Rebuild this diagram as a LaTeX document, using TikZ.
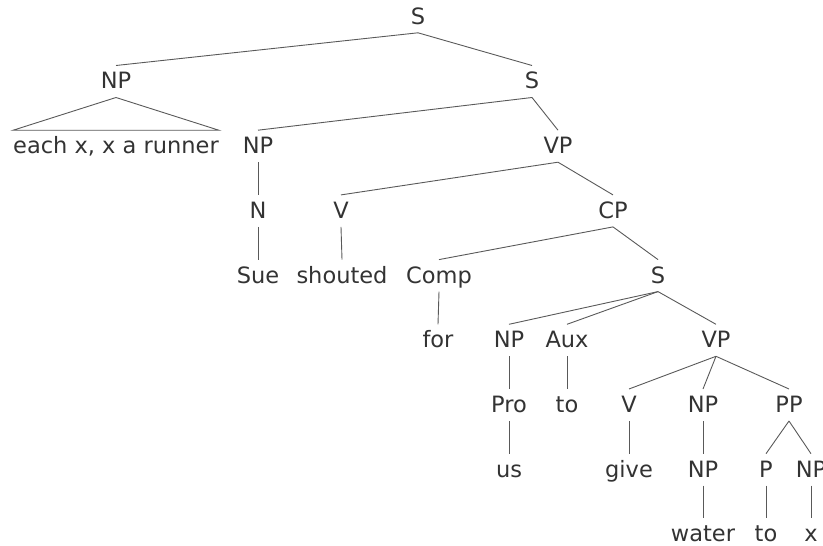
\documentclass[tikz,border=0pt]{standalone}
\usepackage{fontspec}
\setmainfont{DejaVu Sans}
\begin{document}
\begin{tikzpicture}[x=1pt,y=-1pt,
  lbl/.style={font=\fontsize{22.5}{27}\selectfont, text=black!80, inner sep=0pt,
    text height=16.4pt, text depth=1.6pt, outer xsep=0pt, outer ysep=7pt, anchor=base},
  edge/.style={draw=black!65, line width=0.9pt}]
\useasboundingbox (0,0) rectangle (823,546);
\def\la{24.2}\def\lb{88.9}\def\lc{153.6}\def\ld{218.3}\def\le{283}
\def\lf{347.7}\def\lg{412.4}\def\lh{477.1}\def\li{541.8}
% level 0
\node[lbl] (s0) at (418,\la) {S};
% level 1
\node[lbl] (np1) at (116,\lb) {NP};
\node[lbl] (s1) at (532,\lb) {S};
% level 2
\node[lbl] (each) at (116,\lc) {each x, x a runner};
\node[lbl] (np2) at (258,\lc) {NP};
\node[lbl] (vp1) at (558,\lc) {VP};
% level 3
\node[lbl] (n) at (258,\ld) {N};
\node[lbl] (v1) at (341,\ld) {V};
\node[lbl] (cp) at (613,\ld) {CP};
% level 4
\node[lbl] (sue) at (258,\le) {Sue};
\node[lbl] (shouted) at (342,\le) {shouted};
\node[lbl] (comp) at (439,\le) {Comp};
\node[lbl] (s2) at (658,\le) {S};
% level 5
\node[lbl] (for) at (438,\lf) {for};
\node[lbl] (np3) at (509,\lf) {NP};
\node[lbl] (aux) at (567,\lf) {Aux};
\node[lbl] (vp2) at (716,\lf) {VP};
% level 6
\node[lbl] (pro) at (509,\lg) {Pro};
\node[lbl] (to1) at (567,\lg) {to};
\node[lbl] (v2) at (629,\lg) {V};
\node[lbl] (np4) at (703,\lg) {NP};
\node[lbl] (pp) at (789,\lg) {PP};
% level 7
\node[lbl] (us) at (509,\lh) {us};
\node[lbl] (give) at (629,\lh) {give};
\node[lbl] (np5) at (703,\lh) {NP};
\node[lbl] (p) at (766,\lh) {P};
\node[lbl] (np6) at (811,\lh) {NP};
% level 8
\node[lbl] (water) at (703,\li) {water};
\node[lbl] (to2) at (766,\li) {to};
\node[lbl] (x) at (811,\li) {x};
% edges
\draw[edge] (s0.south) -- (np1.north);
\draw[edge] (s0.south) -- (s1.north);
\draw[edge] (np1.south) -- (each.north west) -- (each.north east) -- cycle;
\draw[edge] (s1.south) -- (np2.north);
\draw[edge] (s1.south) -- (vp1.north);
\draw[edge] (np2.south) -- (n.north);
\draw[edge] (n.south) -- (sue.north);
\draw[edge] (vp1.south) -- (v1.north);
\draw[edge] (vp1.south) -- (cp.north);
\draw[edge] (v1.south) -- (shouted.north);
\draw[edge] (cp.south) -- (comp.north);
\draw[edge] (cp.south) -- (s2.north);
\draw[edge] (comp.south) -- (for.north);
\draw[edge] (s2.south) -- (np3.north);
\draw[edge] (s2.south) -- (aux.north);
\draw[edge] (s2.south) -- (vp2.north);
\draw[edge] (np3.south) -- (pro.north);
\draw[edge] (pro.south) -- (us.north);
\draw[edge] (aux.south) -- (to1.north);
\draw[edge] (vp2.south) -- (v2.north);
\draw[edge] (vp2.south) -- (np4.north);
\draw[edge] (vp2.south) -- (pp.north);
\draw[edge] (v2.south) -- (give.north);
\draw[edge] (np4.south) -- (np5.north);
\draw[edge] (np5.south) -- (water.north);
\draw[edge] (pp.south) -- (p.north);
\draw[edge] (pp.south) -- (np6.north);
\draw[edge] (p.south) -- (to2.north);
\draw[edge] (np6.south) -- (x.north);
\end{tikzpicture}
\end{document}
